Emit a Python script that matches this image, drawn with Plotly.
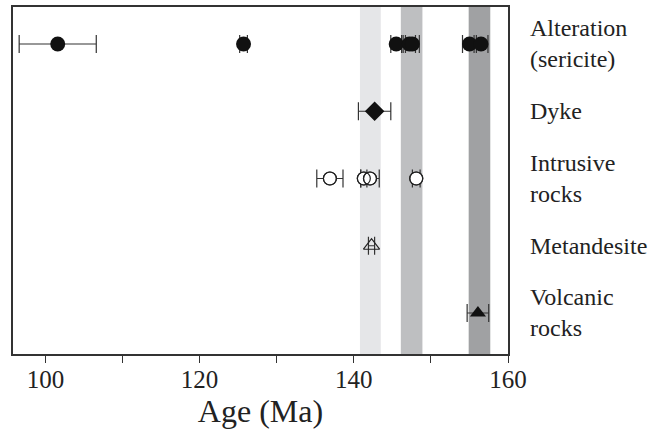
import plotly.graph_objects as go

# ---- data ----
row_labels = ["Alteration<br>(sericite)", "Dyke", "Intrusive<br>rocks", "Metandesite", "Volcanic<br>rocks"]
row_pos = [5, 4, 3, 2, 1]

alt_age = [101.6, 125.7, 145.5, 147.2, 147.6, 155.0, 156.5]
alt_err = [5.0, 0.5, 0.7, 0.8, 0.9, 0.9, 0.9]

dyke_age = [142.7]
dyke_err = [2.1]

intr_age = [136.9, 141.3, 142.1, 148.1]
intr_err = [1.7, 0.4, 1.2, 0.5]

meta_age = [142.3]
meta_err = [0.4]

volc_age = [156.1]
volc_err = [1.4]

band_lo = [140.8, 146.1, 154.9]
band_hi = [143.5, 148.9, 157.7]
band_col = ["#e5e6e8", "#bebfc1", "#a0a1a3"]

x_ticks = [100, 110, 120, 130, 140, 150, 160]
x_ticktext = ["100", "", "120", "", "140", "", "160"]

FONT = "Times New Roman, Liberation Serif, Times, serif"
ERRC = "#333333"

fig = go.Figure()

def err(vals, cap=9):
    return dict(type="data", array=vals, visible=True, color=ERRC, thickness=1.2, width=cap)

# Alteration
fig.add_trace(go.Scatter(x=alt_age, y=[row_pos[0]] * len(alt_age), mode="markers",
                         error_x=err(alt_err),
                         marker=dict(symbol="circle", size=15, color="#111111")))
# Dyke
fig.add_trace(go.Scatter(x=dyke_age, y=[row_pos[1]] * len(dyke_age), mode="markers",
                         error_x=err(dyke_err),
                         marker=dict(symbol="diamond", size=15, color="#111111")))
# Intrusive: error bars, white fill, outlines
fig.add_trace(go.Scatter(x=intr_age, y=[row_pos[2]] * len(intr_age), mode="markers",
                         error_x=err(intr_err),
                         marker=dict(symbol="circle", size=13, color="white",
                                     line=dict(color="#222222", width=1.2))))
fig.add_trace(go.Scatter(x=intr_age, y=[row_pos[2]] * len(intr_age), mode="markers",
                         marker=dict(symbol="circle-open", size=13, color="#222222",
                                     line=dict(width=1.2))))
# Metandesite
fig.add_trace(go.Scatter(x=meta_age, y=[row_pos[3]] * len(meta_age), mode="markers",
                         error_x=err(meta_err),
                         marker=dict(symbol="triangle-up-open", size=14, color="#222222",
                                     line=dict(width=1.2))))
# Volcanic
fig.add_trace(go.Scatter(x=volc_age, y=[row_pos[4]] * len(volc_age), mode="markers",
                         error_x=err(volc_err),
                         marker=dict(symbol="triangle-up", size=14, color="#111111")))

shapes = []
for lo, hi, c in zip(band_lo, band_hi, band_col):
    shapes.append(dict(type="rect", xref="x", yref="paper", x0=lo, x1=hi, y0=0, y1=1,
                       fillcolor=c, line=dict(width=0), layer="below"))

annotations = []
for lab, yp in zip(row_labels, row_pos):
    annotations.append(dict(x=1, xref="paper", y=yp, yref="y", text=lab, showarrow=False,
                            xanchor="left", yanchor="middle", align="left", xshift=20,
                            font=dict(family=FONT, size=24, color="#222222")))

fig.update_layout(
    width=662, height=438,
    margin=dict(l=13, r=154, t=7, b=84, autoexpand=False),
    paper_bgcolor="white", plot_bgcolor="white",
    showlegend=False,
    font=dict(family=FONT),
    shapes=shapes, annotations=annotations,
    xaxis=dict(range=[95.8, 160], tickvals=x_ticks, ticktext=x_ticktext, automargin=False,
               ticks="outside", ticklen=7, tickcolor=ERRC, tickwidth=1.2,
               ticklabelstandoff=-5,
               showgrid=False, zeroline=False,
               showline=True, linecolor=ERRC, linewidth=1.5, mirror=True,
               tickfont=dict(family=FONT, size=25, color="#222222"),
               title=dict(text="Age (Ma)", font=dict(family=FONT, size=32, color="#222222"),
                          standoff=0)),
    yaxis=dict(range=[0.39, 5.55], showticklabels=False, ticks="", showgrid=False, automargin=False,
               zeroline=False, showline=True, linecolor=ERRC, linewidth=1.5, mirror=True),
)

fig.write_html("out.html", config={"displayModeBar": False},
               post_script="document.body.style.margin='0';document.body.style.overflow='hidden';")
